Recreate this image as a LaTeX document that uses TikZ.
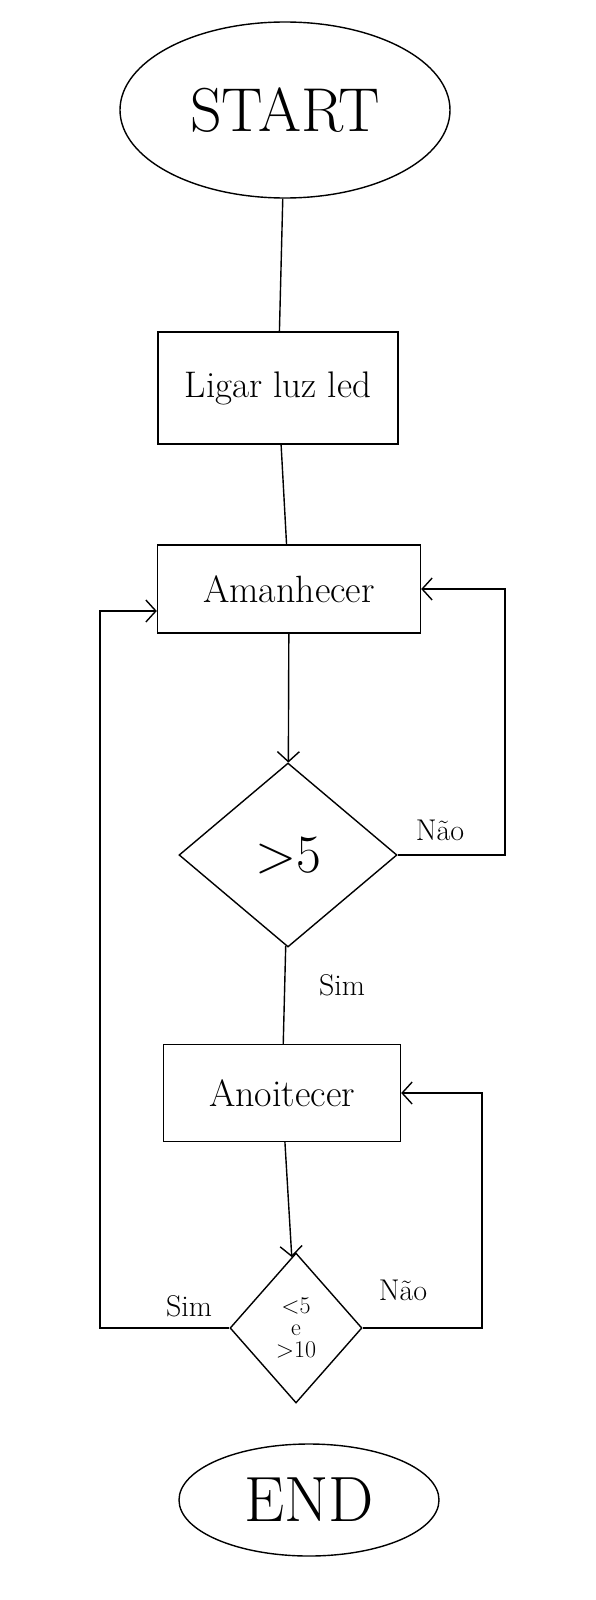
\documentclass[tikz,border=0pt]{standalone}
\usepackage{tikz}
\usetikzlibrary{arrows.meta, positioning, shapes.geometric}

\begin{document}
\begin{tikzpicture}[
        x=1pt, y=-1pt,
        >={Straight Barb[length=10pt,width=22pt]},
        line width=1.4pt,
        terminal/.style={
            ellipse,
            draw,
            inner sep=0pt
        },
        block/.style={
            rectangle,
            draw,
            inner sep=0pt,
            align=center,
            font=\fontsize{38}{44}\selectfont
        },
        decision/.style={
            diamond,
            draw,
            inner sep=0pt,
            align=center
        },
        answer/.style={
            font=\fontsize{30}{34}\selectfont
        }
    ]
    \useasboundingbox (0,0) rectangle (595,1600);

    % Nodes
    \node[terminal, minimum width=330pt, minimum height=176pt, font=\fontsize{62}{70}\selectfont] (start) at (285,110) {START};
    \node[block, minimum width=240pt, minimum height=112pt, font=\fontsize{37}{42}\selectfont] (ligar) at (278,388) {Ligar luz led};
    \node[block, minimum width=263pt, minimum height=88pt] (amanhecer) at (289,589) {Amanhecer};
    \node[decision, minimum width=218pt, minimum height=184pt, font=\fontsize{54}{60}\selectfont] (maior) at (288,855) {>5};
    \node[block, minimum width=237pt, minimum height=97pt] (anoitecer) at (282,1093) {Anoitecer};
    \node[decision, minimum width=132pt, minimum height=150pt, font=\fontsize{24}{22}\selectfont] (entre) at (296,1328) {<5\\e\\>10};
    \node[terminal, minimum width=260pt, minimum height=112pt, font=\fontsize{64}{70}\selectfont] (end) at (309,1500) {END};

    % Loop corners
    \coordinate (right one) at (505,0);
    \coordinate (right two) at (482,0);
    \coordinate (left one) at (100,0);
    \coordinate (sim entry) at ([yshift=-22pt]amanhecer.west);

    % Arrows
    \draw (start) -- (ligar);
    \draw (ligar) -- (amanhecer);
    \draw[->] (amanhecer) -- (maior);
    \draw[->] (maior.east) -| (right one |- amanhecer.east) -- (amanhecer.east);
    \draw (maior) -- (anoitecer);
    \draw[->] (anoitecer) -- (entre);
    \draw[->] (entre.east) -| (right two |- anoitecer.east) -- (anoitecer.east);
    \draw[->] (entre.west) -| (left one |- sim entry) -- (sim entry);

    % Labels
    \node[answer] (nao one) at (440,830) {Não};
    \node[answer] (sim one) at (342,985) {Sim};
    \node[answer] (nao two) at (403,1290) {Não};
    \node[answer] (sim two) at (189,1306) {Sim};

    \end{tikzpicture}
\end{document}
